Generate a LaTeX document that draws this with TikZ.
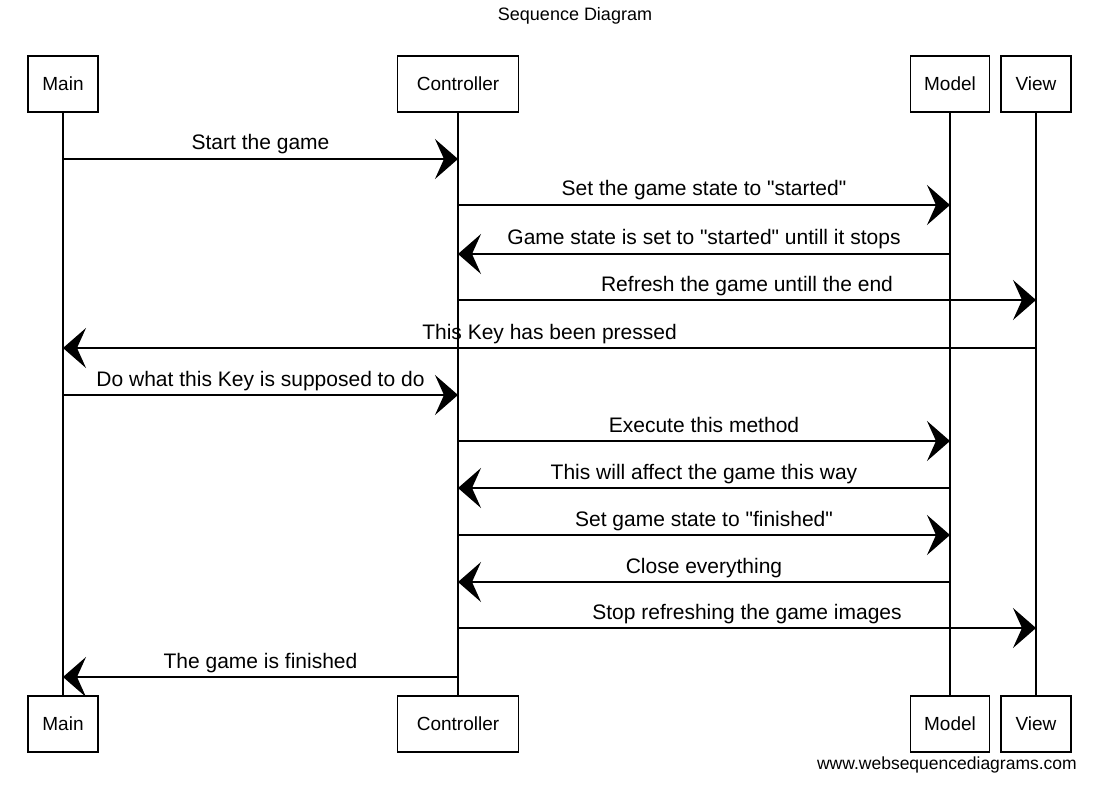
\documentclass[tikz,border=0pt]{standalone}
\usepackage{fontspec}
\setmainfont{Liberation Sans}[Ligatures=TeXOff]
\usetikzlibrary{arrows.meta}
\newcommand\dq{\symbol{34}}
\begin{document}
\begin{tikzpicture}[x=1pt,y=-1pt,
  actor/.style={draw, line width=1.6pt, minimum height=56pt, inner sep=0pt, font=\fontsize{19}{22}\selectfont},
  life/.style={line width=1.2pt},
  msg/.style={line width=1.7pt, -{Stealth[length=23pt,width=40pt,inset=9pt]}},
  lbl/.style={font=\fontsize{21}{24}\selectfont, anchor=base, midway, yshift=9pt, inner sep=0pt}
]
\useasboundingbox (0,0) rectangle (1097,786);
\node[font=\fontsize{18}{20}\selectfont] (title) at (575,16) {Sequence Diagram};
% top actors
\node[actor, minimum width=70pt]  (mainT)  at (63,84)   {Main};
\node[actor, minimum width=121pt] (ctrlT)  at (458,84)  {Controller};
\node[actor, minimum width=79pt]  (modelT) at (950,84)  {Model};
\node[actor, minimum width=70pt]  (viewT)  at (1036,84) {View};
% bottom actors
\node[actor, minimum width=70pt]  (mainB)  at (63,724)   {Main};
\node[actor, minimum width=121pt] (ctrlB)  at (458,724)  {Controller};
\node[actor, minimum width=79pt]  (modelB) at (950,724)  {Model};
\node[actor, minimum width=70pt]  (viewB)  at (1036,724) {View};
% lifelines
\draw[life] (mainT) -- (mainB);
\draw[life] (ctrlT) -- (ctrlB);
\draw[life] (modelT) -- (modelB);
\draw[life] (viewT) -- (viewB);
% messages
\foreach \y/\f/\t/\txt in {
  159/mainT/ctrlT/{Start the game},
  205/ctrlT/modelT/{Set the game state to \dq started\dq},
  254/modelT/ctrlT/{Game state is set to \dq started\dq\ untill it stops},
  300/ctrlT/viewT/{Refresh the game untill the end},
  348/viewT/mainT/{This Key has been pressed},
  395/mainT/ctrlT/{Do what this Key is supposed to do},
  441/ctrlT/modelT/{Execute this method},
  488/modelT/ctrlT/{This will affect the game this way},
  535/ctrlT/modelT/{Set game state to \dq finished\dq},
  582/modelT/ctrlT/{Close everything},
  628/ctrlT/viewT/{Stop refreshing the game images},
  677/ctrlT/mainT/{The game is finished}}
  \draw[msg] (\f |- 0,\y) -- node[lbl] {\txt} (\t |- 0,\y);
\node[anchor=east, font=\fontsize{17.5}{20}\selectfont, inner sep=0pt] (wm) at (1077,765) {www.websequencediagrams.com};
\end{tikzpicture}
\end{document}
